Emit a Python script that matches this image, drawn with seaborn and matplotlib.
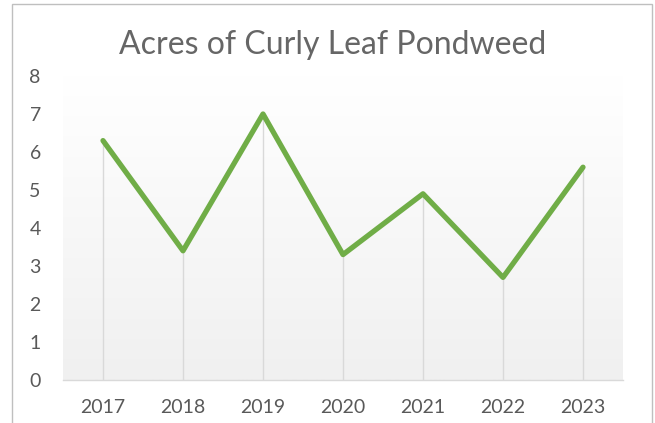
import matplotlib
matplotlib.use("Agg")
import matplotlib.pyplot as plt
import matplotlib.patches as mpatches
from matplotlib.colors import LinearSegmentedColormap
import numpy as np
import pandas as pd
import seaborn as sns

years = ["2017", "2018", "2019", "2020", "2021", "2022", "2023"]
acres = [6.3, 3.4, 7.0, 3.3, 4.9, 2.7, 5.6]
y_ticks = [0, 1, 2, 3, 4, 5, 6, 7, 8]
title = "Acres of Curly Leaf Pondweed"

sns.set_theme(style="white")
plt.rcParams["font.family"] = ["Lato", "DejaVu Sans"]

W, H = 655, 423
fig = plt.figure(figsize=(W / 100, H / 100), dpi=100)
fig.patch.set_facecolor("white")

# outer chart border
fig.patches.append(mpatches.Rectangle((12 / W, -0.05), (652 - 12) / W, 1 - 4 / H + 0.05,
                                      transform=fig.transFigure, fill=False,
                                      edgecolor="#bfbfbf", linewidth=1.0))

ax = fig.add_axes([63 / W, 1 - 380 / H, (623 - 63) / W, (380 - 76) / H])

df = pd.DataFrame({"year": years, "acres": acres})
x = np.arange(len(years))
df["x"] = x

# gradient background: white at top, light grey at bottom
grad = np.linspace(0, 1, 256).reshape(-1, 1)
cmap = LinearSegmentedColormap.from_list("g", ["#ffffff", "#f0f0f0"])
ax.imshow(grad, extent=[-0.5, 6.5, 0, 8], origin="upper", cmap=cmap, aspect="auto", zorder=0)

ax.vlines(df["x"], 0, df["acres"], colors="#d9d9d9", linewidth=1.0, zorder=1)
sns.lineplot(data=df, x="x", y="acres", ax=ax, color="#70ad47", linewidth=3.8,
             zorder=3, solid_capstyle="round", solid_joinstyle="round")

ax.set_xlim(-0.5, 6.5)
ax.set_ylim(0, 8)
ax.set_xticks(x)
ax.set_xticklabels(years)
ax.set_yticks(y_ticks)
ax.set_yticklabels([str(v) for v in y_ticks])
ax.set_xlabel("")
ax.set_ylabel("")
for s in ["top", "right", "left"]:
    ax.spines[s].set_visible(False)
ax.spines["bottom"].set_color("#d9d9d9")
ax.spines["bottom"].set_linewidth(1.0)
ax.tick_params(axis="both", length=0, labelsize=14, labelcolor="#595959")
ax.tick_params(axis="x", pad=14)
ax.tick_params(axis="y", pad=16)
ax.grid(False)
ax.set_facecolor("white")

fig.text(333 / W, 1 - 45 / H, title, ha="center", va="center", fontsize=23,
         fontweight="normal", color="#666666")

fig.savefig("out.png", dpi=100)
